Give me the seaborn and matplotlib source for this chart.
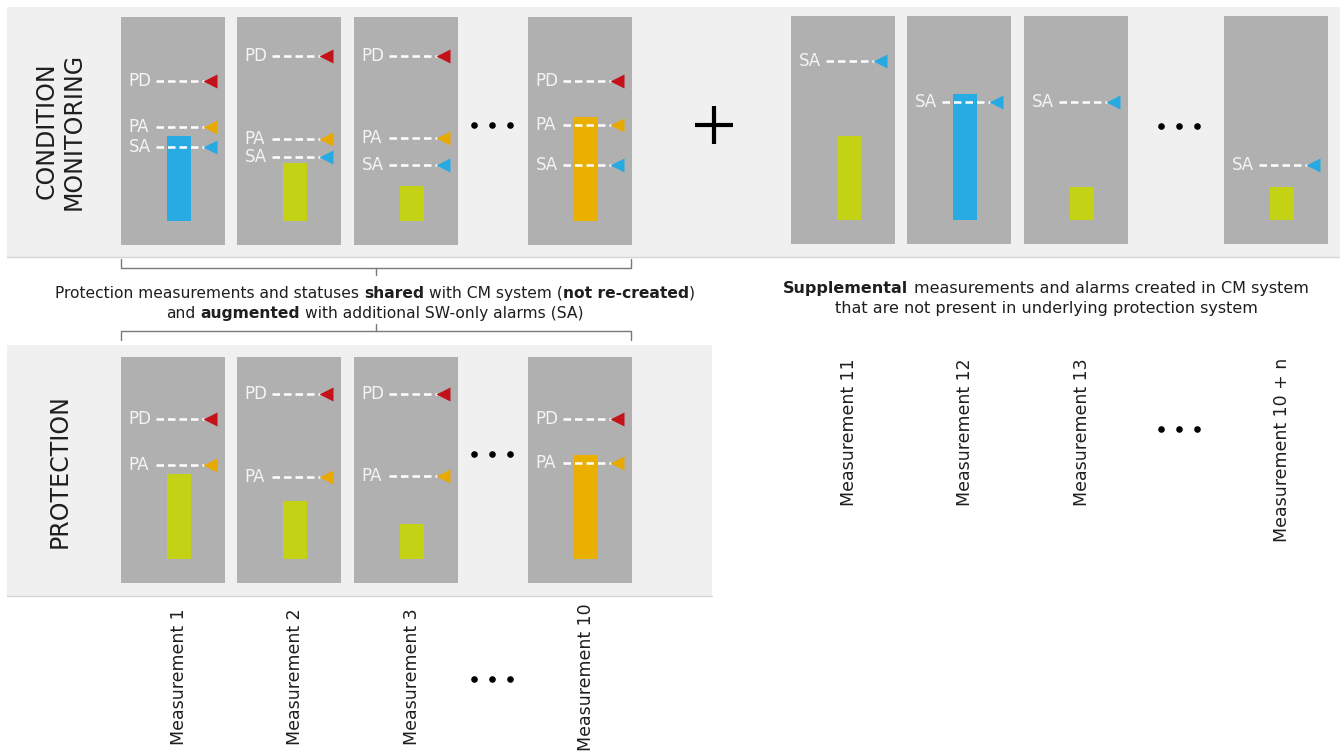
import pandas as pd
import seaborn as sns
import matplotlib.pyplot as plt
from matplotlib.patches import Rectangle

# ==========================================
# DATOS (0 = base de la barra, 100 = borde superior del panel)
# ==========================================
shared_labels = ["Measurement 1", "Measurement 2", "Measurement 3", "Measurement 10"]
shared_values = [41.7, 28.4, 17.2, 51.0]
shared_pd = [68.6, 80.9, 80.9, 68.6]
shared_pa = [46.1, 40.2, 40.7, 47.1]
shared_sa = [36.3, 31.4, 27.5, 27.5]

supp_labels = ["Measurement 11", "Measurement 12", "Measurement 13", "Measurement 10 + n"]
supp_values = [41.2, 61.8, 16.2, 16.2]
supp_sa = [77.9, 57.8, 57.8, 27.0]

caption_shared = ["Protection measurements and statuses **shared** with CM system (**not re-created**)",
                  "and **augmented** with additional SW-only alarms (SA)"]
caption_supp = ["**Supplemental** measurements and alarms created in CM system",
                "that are not present in underlying protection system"]

# ==========================================
# ESTILO / GEOMETRIA
# ==========================================
W, H = 1340, 753
PANEL_W = 104
shared_x = [121, 237, 354, 528]
supp_x = [791, 907, 1024, 1224]

alarm_colors = {'PD': '#c4121a', 'PA': '#e8a900', 'SA': '#27a9e1'}
bar_colors = {'PD': '#c4121a', 'PA': '#e9b000', 'SA': '#27abe2'}
ok_color = '#c4d215'
txt_color = '#1e1e1e'

sns.set_theme(style='white')
plt.rcParams['font.family'] = ['DejaVu Sans']

fig = plt.figure(figsize=(W / 100, H / 100), dpi=100)
fig.patch.set_facecolor('white')

bg = fig.add_axes([0, 0, 1, 1])
bg.set_xlim(0, W)
bg.set_ylim(H, 0)
bg.axis('off')

# bandas de fondo
bg.add_patch(Rectangle((7, 7), W - 7, 250, fc='#f0f0f0', ec='none'))
bg.plot([7, W], [257, 257], color='#d4d4d4', lw=1)
bg.add_patch(Rectangle((7, 345), 705, 251, fc='#f0f0f0', ec='none'))
bg.plot([7, 712], [596, 596], color='#d4d4d4', lw=1)

bg.text(60, 131, "CONDITION\nMONITORING", rotation=90, fontsize=17, ha='center', va='center',
        linespacing=1.15, multialignment='center', color=txt_color)
bg.text(60, 471, "PROTECTION", rotation=90, fontsize=17, ha='center', va='center', color=txt_color)


def draw_panel(left, top, height, label, value, levels):
    ax = fig.add_axes([left / W, 1 - (top + height) / H, PANEL_W / W, height / H])
    estado = next((k for k, v in levels if value > v), None)
    color = bar_colors.get(estado, ok_color)
    sns.barplot(x=[label], y=[value], color=color, width=0.23, saturation=1, ax=ax,
                linewidth=0, edgecolor='none')
    ax.set_xlim(-0.56, 0.44)
    ax.set_ylim(-24 / 2.04, (height - 24) / 2.04)
    ax.set_facecolor('#b0b0b0')
    for s in ax.spines.values():
        s.set_visible(False)
    ax.set_xticks([])
    ax.set_yticks([])
    ax.set_xlabel('')
    ax.set_ylabel('')
    for name, lv in levels:
        ax.text(-0.485, lv, name, color='#f4f4f4', fontsize=12, va='center', ha='left')
        ax.plot([-0.22, 0.235], [lv, lv], color='white', lw=1.8, ls=(0, (3, 1.6)))
        ax.plot(0.30, lv, marker='<', ms=10.5, color=alarm_colors[name], mec='none')
    return ax


for i, lab in enumerate(shared_labels):
    # condition monitoring (PD, PA, SA)
    draw_panel(shared_x[i], 17, 228, lab, shared_values[i],
               [('PD', shared_pd[i]), ('PA', shared_pa[i]), ('SA', shared_sa[i])])
    # protection (solo PD, PA)
    draw_panel(shared_x[i], 357, 226, lab, shared_values[i],
               [('PD', shared_pd[i]), ('PA', shared_pa[i])])
    bg.text(shared_x[i] + 58, 677, lab, rotation=90, fontsize=12.5, ha='center', va='center',
            color=txt_color)

for i, lab in enumerate(supp_labels):
    draw_panel(supp_x[i], 16, 228, lab, supp_values[i], [('SA', supp_sa[i])])
    bg.text(supp_x[i] + 58, 358, lab, rotation=90, fontsize=12.5, ha='center', va='top',
            color=txt_color)

# puntos suspensivos
for xs, y in [((474, 492, 510), 125), ((474, 492, 510), 454), ((474, 492, 510), 679),
              ((1161, 1179, 1197), 126), ((1161, 1179, 1197), 429)]:
    bg.scatter(xs, [y] * 3, s=14, color='black', zorder=5)

# signo +
bg.plot([695, 733], [125, 125], color='black', lw=3, solid_capstyle='butt')
bg.plot([714, 714], [106, 144], color='black', lw=3, solid_capstyle='butt')

# llaves
br = dict(color='#7a7a7a', lw=1)
bg.plot([121, 121, 631, 631], [259, 268, 268, 259], **br)
bg.plot([376, 376], [268, 275], **br)
bg.plot([121, 121, 631, 631], [340, 331, 331, 340], **br)
bg.plot([376, 376], [324, 331], **br)


def rich_line(xc, y, markup, size):
    r = fig.canvas.get_renderer()

    def width(s, weight='normal'):
        t = bg.text(0, 0, s, fontsize=size, fontweight=weight)
        w = t.get_window_extent(r).width
        t.remove()
        return w

    space = width('x x') - width('xx')
    pieces = []
    for i, chunk in enumerate(markup.split('**')):
        if not chunk:
            continue
        weight = 'bold' if i % 2 else 'normal'
        lead = len(chunk) - len(chunk.lstrip(' '))
        trail = len(chunk) - len(chunk.rstrip(' '))
        core = chunk.strip(' ')
        pieces.append((lead * space, core, weight, width(core, weight), trail * space))
    total = sum(a + w + b for a, _, _, w, b in pieces)
    x = xc - total / 2
    for a, core, weight, w, b in pieces:
        x += a
        bg.text(x, y, core, fontsize=size, fontweight=weight, ha='left', va='center',
                color=txt_color)
        x += w + b


rich_line(375, 293, caption_shared[0], 11.2)
rich_line(375, 313, caption_shared[1], 11.2)
rich_line(1046, 288, caption_supp[0], 11.5)
rich_line(1046, 308, caption_supp[1], 11.5)

plt.savefig('out.png', dpi=100, facecolor='white')
